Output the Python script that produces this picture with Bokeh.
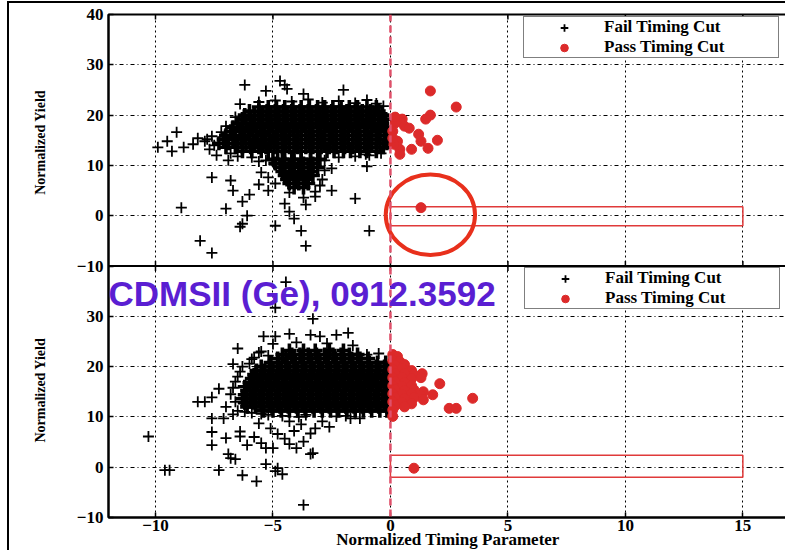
from bokeh.plotting import figure
from bokeh.models import Range1d, FixedTicker, Span, Label, Legend, LegendItem
from bokeh.embed import file_html
from bokeh.resources import INLINE

# ---------------- data ----------------
x_ticks = [-10, -5, 0, 5, 10, 15]
y_ticks_top = [-10, 0, 10, 20, 30, 40]
y_ticks_bottom = [-10, 0, 10, 20, 30]

legend_labels = ["Fail Timing Cut", "Pass Timing Cut"]
title_text = "CDMSII (Ge), 0912.3592"
x_title = "Normalized Timing Parameter"
y_title = "Normalized Yield"

# upper panel, failing events: dense core rows (y level -> x positions)
fail_top_core_y = [5.6, 6.4, 7.2, 8.0, 8.8, 9.6, 10.4, 11.2,
                   12.8, 13.6, 14.4, 15.2, 16.0, 16.8, 17.6, 18.4, 19.2, 20.0, 20.8, 21.6]
fail_top_core_x = [
    [-4.1, -3.7],
    [-4.3, -3.9, -3.5],
    [-4.4, -4.0, -3.6],
    [-4.5, -4.1, -3.7, -3.3],
    [-4.6, -4.2, -3.8, -3.4],
    [-4.7, -4.3, -3.9, -3.5, -3.1],
    [-4.9, -4.5, -4.1, -3.7, -3.3],
    [-5.0, -4.6, -4.2, -3.8, -3.4, -3.0],
    [-6.3, -5.9, -5.5, -5.2, -4.8, -4.5, -4.1, -3.8, -3.4, -3.1, -2.7, -2.4, -2.0, -1.7, -1.3, -1.0, -0.6],
    [-7.0, -6.6, -6.3, -5.95, -5.6, -5.3, -4.95, -4.6, -4.3, -3.95, -3.6, -3.3, -2.95, -2.6, -2.3, -1.95, -1.6, -1.3, -0.95, -0.6, -0.3],
    [-7.3, -6.9, -6.5, -6.15, -5.8, -5.45, -5.1, -4.8, -4.45, -4.1, -3.8, -3.45, -3.1, -2.8, -2.45, -2.1, -1.8, -1.45, -1.1, -0.8, -0.45, -0.15],
    [-7.1, -6.7, -6.35, -6.0, -5.65, -5.3, -4.95, -4.6, -4.3, -3.95, -3.6, -3.3, -2.95, -2.6, -2.3, -1.95, -1.6, -1.3, -0.95, -0.6, -0.25],
    [-7.0, -6.6, -6.2, -5.85, -5.5, -5.15, -4.8, -4.45, -4.1, -3.8, -3.45, -3.1, -2.8, -2.45, -2.1, -1.8, -1.45, -1.1, -0.8, -0.45, -0.15],
    [-6.8, -6.4, -6.05, -5.7, -5.35, -5.0, -4.65, -4.3, -3.95, -3.6, -3.3, -2.95, -2.6, -2.3, -1.95, -1.6, -1.3, -0.95, -0.6, -0.25],
    [-6.7, -6.3, -5.9, -5.55, -5.2, -4.85, -4.5, -4.15, -3.8, -3.45, -3.1, -2.8, -2.45, -2.1, -1.8, -1.45, -1.1, -0.8, -0.45, -0.15],
    [-6.5, -6.15, -5.8, -5.45, -5.1, -4.75, -4.4, -4.05, -3.7, -3.35, -3.0, -2.7, -2.35, -2.0, -1.7, -1.35, -1.0, -0.7, -0.35],
    [-6.3, -5.95, -5.6, -5.25, -4.9, -4.55, -4.2, -3.85, -3.5, -3.15, -2.85, -2.5, -2.15, -1.85, -1.5, -1.2, -0.85, -0.5, -0.2],
    [-6.2, -5.8, -5.45, -5.1, -4.75, -4.4, -4.05, -3.7, -3.35, -3.0, -2.7, -2.35, -2.0, -1.7, -1.35, -1.0, -0.7, -0.35],
    [-6.0, -5.6, -5.25, -4.9, -4.55, -4.2, -3.85, -3.5, -3.15, -2.85, -2.5, -2.15, -1.85, -1.5, -1.2, -0.85, -0.5],
    [-5.6, -5.2, -4.85, -4.5, -4.15, -3.8, -3.45, -3.1, -2.8, -2.45, -2.1, -1.75, -1.4, -1.0, -0.6],
]
# upper panel, failing events: scattered points
fail_top_x = [-9.9, -9.5, -9.1, -9.3, -8.8, -8.4, -8.9, -8.1, -7.6, -7.6, -6.8, -6.7, -7.0, -6.4, -6.3,
              -6.1, -6.3, -6.0, -6.2, -4.9, -4.3, -4.1, -3.8, -3.6, -4.5, -3.6, -2.5, -2.5, -1.5, -0.9,
              -2.0, -4.7, -4.5, -4.4, -3.7, -5.3, -6.4, -1.0, -0.3, -7.8, -7.5, -7.2, -7.0, -6.8, -7.4,
              -6.6, -6.9, -5.6, -5.0, -1.05, -2.8, -1.0,
              -5.3, -5.2, -5.5, -4.9, -5.6, -3.2, -3.0, -2.9, -2.8, -4.3, -3.7, -3.2, -5.2,
              -5.6, -4.9, -4.2, -3.5, -2.9, -2.2, -1.5, -0.6, -7.6, -7.9, -8.2, -7.7, -6.5, -5.9, -2.2,
              -1.5, -0.9, -0.4]
fail_top_y = [13.6, 14.8, 16.6, 12.8, 13.6, 14.2, 1.6, -5.0, -7.4, 7.6, 7.0, 5.0, 1.4, -2.2, -1.6,
              0.0, 2.8, 4.2, 26.0, -2.0, 0.8, -0.6, -3.0, -6.0, 2.4, 2.2, 5.0, 9.4, 3.4, -3.0,
              25.0, 26.8, 26.0, 25.2, 24.2, 24.8, 22.2, 23.0, 21.8, 15.2, 14.0, 16.6, 17.8, 12.4, 12.0,
              19.6, 11.0, 10.8, 11.2, 12.2, 11.0, 9.8,
              11.0, 7.6, 8.6, 6.4, 6.2, 4.8, 6.0, 7.2, 9.0, 4.6, 3.6, 3.8, 5.0,
              22.6, 22.9, 22.7, 23.1, 22.5, 22.8, 22.4, 22.3, 15.8, 14.8, 15.4, 13.2, 11.8, 11.6, 11.6,
              11.8, 12.0, 12.4]
# upper panel, passing events
pass_top_x = [1.7, 2.8, 1.7, 1.5, 0.5, 0.4, 0.2, 0.6, 1.2, 0.3, 1.3, 2.0, 1.6, 0.9, 0.4, 0.4, 0.15,
              0.1, 0.1, 0.8, 0.2, 1.3]
pass_top_y = [24.8, 21.6, 20.0, 19.2, 19.2, 18.8, 18.4, 17.8, 16.2, 14.8, 14.8, 15.0, 13.4, 13.2, 13.2,
              12.2, 14.2, 16.8, 15.4, 17.4, 19.6, 1.6]

# lower panel, failing events: dense core rows
fail_bot_core_y = [11.2, 12.0, 12.8, 13.6, 14.4, 15.2, 16.0, 16.8, 17.6, 18.4, 19.2, 20.0, 20.8, 21.6, 22.4, 23.2]
fail_bot_core_x = [
    [-5.4, -5.0, -4.65, -4.3, -3.95, -3.6, -3.25, -2.9, -2.55, -2.2, -1.85, -1.5, -1.15, -0.8, -0.45, -0.15],
    [-6.1, -5.75, -5.4, -5.05, -4.7, -4.35, -4.0, -3.65, -3.3, -2.95, -2.6, -2.25, -1.9, -1.55, -1.2, -0.85, -0.5, -0.15],
    [-6.2, -5.85, -5.5, -5.15, -4.8, -4.45, -4.1, -3.75, -3.4, -3.05, -2.7, -2.35, -2.0, -1.65, -1.3, -0.95, -0.6, -0.25],
    [-6.3, -5.95, -5.6, -5.25, -4.9, -4.55, -4.2, -3.85, -3.5, -3.15, -2.8, -2.45, -2.1, -1.75, -1.4, -1.05, -0.7, -0.35, -0.1],
    [-6.2, -5.85, -5.5, -5.15, -4.8, -4.45, -4.1, -3.75, -3.4, -3.05, -2.7, -2.35, -2.0, -1.65, -1.3, -0.95, -0.6, -0.25],
    [-6.1, -5.75, -5.4, -5.05, -4.7, -4.35, -4.0, -3.65, -3.3, -2.95, -2.6, -2.25, -1.9, -1.55, -1.2, -0.85, -0.5, -0.15],
    [-6.2, -5.85, -5.5, -5.15, -4.8, -4.45, -4.1, -3.75, -3.4, -3.05, -2.7, -2.35, -2.0, -1.65, -1.3, -0.95, -0.6, -0.25],
    [-6.0, -5.65, -5.3, -4.95, -4.6, -4.25, -3.9, -3.55, -3.2, -2.85, -2.5, -2.15, -1.8, -1.45, -1.1, -0.75, -0.4, -0.1],
    [-5.9, -5.55, -5.2, -4.85, -4.5, -4.15, -3.8, -3.45, -3.1, -2.75, -2.4, -2.05, -1.7, -1.35, -1.0, -0.65, -0.3],
    [-5.8, -5.45, -5.1, -4.75, -4.4, -4.05, -3.7, -3.35, -3.0, -2.65, -2.3, -1.95, -1.6, -1.25, -0.9, -0.55, -0.2],
    [-5.7, -5.35, -5.0, -4.65, -4.3, -3.95, -3.6, -3.25, -2.9, -2.55, -2.2, -1.85, -1.5, -1.15, -0.8, -0.45, -0.1],
    [-5.5, -5.15, -4.8, -4.45, -4.1, -3.75, -3.4, -3.05, -2.7, -2.35, -2.0, -1.65, -1.3, -0.95, -0.6, -0.25],
    [-5.1, -4.75, -4.4, -4.05, -3.7, -3.35, -3.0, -2.65, -2.3, -1.95, -1.6, -1.25, -0.9, -0.55, -0.2],
    [-4.8, -4.45, -4.1, -3.75, -3.4, -3.05, -2.7, -2.35, -2.0, -1.65, -1.3, -0.95],
    [-4.6, -4.2, -3.85, -3.5, -3.15, -2.8, -2.45, -2.1, -1.75, -1.4],
    [-4.3, -3.7, -3.2, -2.6, -2.0],
]
# lower panel, failing events: scattered points
fail_bot_x = [-6.5, -5.4, -4.9, -4.3, -3.4, -3.0, -2.3, -1.8, -1.0, -4.9, -4.45, -3.3,
              -7.3, -8.2, -7.9, -7.6, -10.3, -9.6, -9.4, -7.3, -6.3, -5.7, -3.7, -5.3, -4.9, -4.6, -4.8,
              -7.6, -7.1, -7.6, -7.6, -7.0, -6.4, -6.4, -6.9, -6.8, -6.6, -6.1, -5.5, -5.3, -5.0,
              -5.6, -5.1, -4.5, -4.3, -4.0, -3.7, -3.4, -3.3, -3.4, -3.2, -3.8, -4.3, -2.9, -2.3,
              -1.7, -1.3, -6.7, -6.5, -7.0, -6.8, -6.6, -6.4, -6.7, -5.9, -5.6, -5.0, -4.0, -2.7,
              -1.6, -0.5, -4.6, -3.9, -5.2, -5.8, -4.8, -4.1, -3.6, -2.6, -1.9,
              -6.2, -5.9, -5.5, -6.6, -6.7, -6.5, -6.3, -6.0, -5.8, -5.2, -5.5]
fail_bot_y = [23.6, 26.0, 26.0, 26.5, 26.3, 26.0, 26.3, 26.7, 22.4, 31.7, 36.8, 29.5,
              15.6, 13.0, 13.0, 13.9, 6.1, -0.6, -0.6, -0.6, -1.6, -2.8, -7.5, 0.6, -0.8, -1.4, -0.2,
              9.7, 9.7, 7.0, 4.4, 5.8, 7.1, 6.1, 2.6, 1.8, 1.6, 4.4, 4.8, 3.8, 3.8,
              8.7, 7.7, 5.7, 4.6, 3.8, 5.1, 2.6, 2.8, 6.7, 7.7, 8.5, 9.1, 9.1, 10.1,
              9.7, 9.7, 10.5, 11.2, 12.0, 14.5, 17.0, 19.0, 20.5, 21.5, 22.8, 24.5, 24.8, 24.6,
              24.2, 22.6, 10.2, 10.0, 10.4, 6.0, 6.6, 7.2, 10.4, 8.0, 10.2,
              11.0, 10.8, 10.6, 13.0, 15.8, 18.0, 20.0, 20.6, 21.8, 22.2, 23.0]
# lower panel, passing events
pass_bot_x = [0.1, 0.3, 0.1, 0.4, 0.2, 0.6, 0.1, 0.5, 0.9, 0.2, 0.6, 1.0, 1.35, 0.1, 0.5, 0.9, 1.3,
              0.2, 0.6, 0.1, 0.5, 0.9, 0.2, 0.6, 1.0, 1.4, 1.8, 0.1, 0.5, 0.9, 1.3, 0.2, 0.6, 1.0,
              1.4, 0.1, 0.5, 0.9, 0.2, 0.6, 0.1, 0.1, 2.1, 3.5, 2.5, 2.8, 1.0]
pass_bot_y = [22.4, 22.0, 21.2, 21.0, 20.2, 20.4, 19.4, 19.6, 19.2, 18.6, 18.6, 18.4, 18.6, 17.8, 17.8,
              17.6, 17.8, 17.0, 16.8, 16.2, 16.0, 16.2, 15.4, 15.2, 15.4, 15.0, 14.4, 14.6, 14.4, 14.6,
              14.2, 13.8, 13.6, 13.8, 13.4, 13.0, 12.8, 12.6, 12.2, 12.0, 11.4, 10.1, 16.6, 13.7, 11.7,
              11.7, -0.2]

# signal region boxes and the highlighted event
box_x = [0, 15]
box_top_panel_y = [-2.0, 1.8]
box_bot_panel_y = [-2.0, 2.4]
ring_center = [1.7, 0.2]
ring_size = [3.8, 16.0]

# ---------------- helpers ----------------
def flatten(rows_x, rows_y):
    xs, ys = [], []
    for yv, row in zip(rows_y, rows_x):
        xs.extend(row)
        ys.extend([yv] * len(row))
    return xs, ys

def tick_text(t):
    return "\u2212" + str(abs(t)) if t < 0 else str(t)

ctx, cty = flatten(fail_top_core_x, fail_top_core_y)
cbx, cby = flatten(fail_bot_core_x, fail_bot_core_y)

RED = "#dc2a2a"
SERIF = "Liberation Serif"

# bottom panel occupies -10..40 of the main range; top panel uses an extra range
panel_span = y_ticks_top[-1] - y_ticks_top[0]
p = figure(width=778, height=549, output_backend="svg", toolbar_location=None,
           x_range=Range1d(-12, 16.9), y_range=Range1d(-10, -10 + 2 * panel_span),
           min_border_left=99, min_border_right=0, min_border_top=11, min_border_bottom=35)
p.extra_y_ranges = {"top": Range1d(-10 - panel_span, 40)}
p.styles = {"margin-left": "7px", "margin-top": "1px",
            "border-left": "2px solid black", "border-top": "2px solid black"}
p.outline_line_color = "black"
p.outline_line_width = 2
p.background_fill_color = "white"
p.border_fill_color = "white"

shift = panel_span
yt = list(y_ticks_bottom) + [t + shift for t in y_ticks_top]
overrides = {t: tick_text(t) for t in y_ticks_bottom}
overrides.update({t + shift: tick_text(t) for t in y_ticks_top})

p.yaxis.ticker = FixedTicker(ticks=yt)
p.yaxis.major_label_overrides = overrides
p.xaxis.ticker = FixedTicker(ticks=x_ticks)
p.xaxis.major_label_overrides = {t: tick_text(t) for t in x_ticks}
for ax in (p.xaxis, p.yaxis):
    ax.major_tick_in = 5
    ax.major_tick_out = 0
    ax.minor_tick_line_color = None
    ax.major_tick_line_color = "black"
    ax.major_tick_line_width = 1.5
    ax.axis_line_color = "black"
    ax.axis_line_width = 2
    ax.major_label_text_font = SERIF
    ax.major_label_text_font_style = "bold"
    ax.major_label_text_font_size = "17px"
    ax.major_label_text_color = "black"
    ax.axis_label_text_font = SERIF
    ax.axis_label_text_font_style = "bold"
    ax.axis_label_text_color = "black"
p.yaxis.major_label_standoff = 5
p.xaxis.major_label_standoff = 2
p.xaxis.axis_label = x_title
p.xaxis.axis_label_text_font_size = "17px"
p.xaxis.axis_label_standoff = -4
# one yield title per panel, centred on each panel (non-breaking spaces keep them apart)
p.yaxis.axis_label = y_title + "\u00a0" * 41 + y_title
p.yaxis.axis_label_text_font_size = "14px"
p.yaxis.axis_label_standoff = 26

p.xgrid.grid_line_color = "black"
p.xgrid.grid_line_dash = "2 3"
p.xgrid.grid_line_width = 1
p.ygrid.grid_line_color = "black"
p.ygrid.grid_line_dash = "4 3 1 3"
p.ygrid.grid_line_width = 1

# tick marks on the top edge and the panel divider
n = len(x_ticks)
top_edge = -10 + 2 * panel_span
mid = 40
p.segment(x0=x_ticks, y0=[top_edge] * n, x1=x_ticks, y1=[top_edge - 1] * n, line_color="black", line_width=1.5)
p.segment(x0=x_ticks, y0=[mid - 1] * n, x1=x_ticks, y1=[mid + 1] * n, line_color="black", line_width=1.5)

# signal boxes
p.quad(left=[box_x[0]], right=[box_x[1]], bottom=[box_top_panel_y[0]], top=[box_top_panel_y[1]],
       fill_color=None, line_color="#e03a3a", line_width=1.5, y_range_name="top")
p.quad(left=[box_x[0]], right=[box_x[1]], bottom=[box_bot_panel_y[0]], top=[box_bot_panel_y[1]],
       fill_color=None, line_color="#e03a3a", line_width=1.5)

# dense cores (heavier crosses) and scattered events
p.scatter(ctx, cty, marker="cross", size=14, line_width=3.6, color="black", y_range_name="top")
p.scatter(cbx, cby, marker="cross", size=14, line_width=3.6, color="black")
r_ft = p.scatter(fail_top_x, fail_top_y, marker="cross", size=11, line_width=1.8, color="black",
                 y_range_name="top")
r_pt = p.scatter(pass_top_x, pass_top_y, marker="circle", size=10, fill_color=RED, line_color=RED,
                 y_range_name="top")
r_fb = p.scatter(fail_bot_x, fail_bot_y, marker="cross", size=11, line_width=1.8, color="black")
r_pb = p.scatter(pass_bot_x, pass_bot_y, marker="circle", size=10, fill_color=RED, line_color=RED)

p.ellipse(x=[ring_center[0]], y=[ring_center[1]], width=[ring_size[0]], height=[ring_size[1]],
          fill_color=None, line_color="#e8301c", line_width=4, y_range_name="top")

p.add_layout(Span(location=0, dimension="height", line_color="#e0506a", line_width=2.5, line_dash="7 4"))
p.add_layout(Span(location=mid, dimension="width", line_color="black", line_width=2))

def make_legend(r1, r2, loc):
    lg = Legend(items=[LegendItem(label=legend_labels[0], renderers=[r1]),
                       LegendItem(label=legend_labels[1], renderers=[r2])],
                location=loc, orientation="vertical")
    lg.padding = 0
    lg.spacing = 0
    lg.margin = 0
    lg.glyph_width = 80
    lg.glyph_height = 19
    lg.label_standoff = 0
    lg.label_width = 174
    lg.label_height = 19
    lg.border_line_color = "black"
    lg.border_line_width = 1.5
    lg.background_fill_color = "white"
    lg.background_fill_alpha = 1
    lg.label_text_font = SERIF
    lg.label_text_font_style = "bold"
    lg.label_text_font_size = "17px"
    lg.label_text_color = "black"
    return lg

p.add_layout(make_legend(r_ft, r_pt, (415, 459)))
p.add_layout(make_legend(r_fb, r_pb, (416, 208)))

p.add_layout(Label(x=-12, y=34.6, x_offset=0, text=title_text, text_align="left",
                   text_baseline="alphabetic", text_font="Liberation Sans", text_font_style="bold",
                   text_font_size="35px", text_color="#5a1ed2"))

open("out.html", "w").write(file_html(p, INLINE))
